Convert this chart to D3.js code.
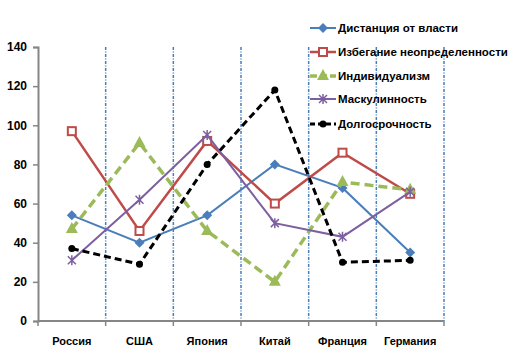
<!DOCTYPE html>
<html><head><meta charset="utf-8">
<script src="https://cdn.jsdelivr.net/npm/d3@7"></script>
<style>body{margin:0;background:#fff}svg{display:block}text{font-family:"Liberation Sans",Arial,sans-serif;font-weight:bold;fill:#000}</style>
</head><body><div id="c"></div>
<script>
const categories = ["Россия","США","Япония","Китай","Франция","Германия"];
const seriesNames = ["Дистанция от власти","Избегание неопределенности","Индивидуализм","Маскулинность","Долгосрочность"];
const powerDistance = [54,40,54,80,68,35];
const uncertainty = [97,46,92,60,86,65];
const individualism = [47,91,46,20,71,67];
const masculinity = [31,62,95,50,43,66];
const longTerm = [37,29,80,118,30,31];
const yTicks = [0,20,40,60,80,100,120,140];

const W=517,H=356;
const svg=d3.select("#c").append("svg").attr("width",W).attr("height",H);
const x=d3.scaleBand().domain(categories).range([38,444]);
const y=d3.scaleLinear().domain([0,140]).range([321,47]);

const styles=[
 {c:"#4A7EBB",w:2,dash:null,mk:"diamond"},
 {c:"#BE4B48",w:2.5,dash:null,mk:"square"},
 {c:"#9BBB59",w:3.5,dash:"9,5",mk:"triangle"},
 {c:"#7D5FA0",w:2,dash:null,mk:"x"},
 {c:"#000",w:3,dash:"7,4",mk:"circle"}
];
const data=[powerDistance,uncertainty,individualism,masculinity,longTerm];

const bounds=categories.map(c=>x(c)+x.bandwidth());
svg.append("g").selectAll("line").data(bounds).join("line")
 .attr("x1",d=>d).attr("x2",d=>d).attr("y1",y(140)).attr("y2",y(0))
 .attr("stroke","#4A7EBB").attr("stroke-width",1.5).attr("stroke-dasharray","3,1.5,1,1.5");

const ya=svg.append("g").attr("transform","translate(38,0)").call(d3.axisLeft(y).tickValues(yTicks).tickSize(5).tickPadding(6));
ya.select(".domain").attr("stroke","#868686").attr("stroke-width",2);
ya.selectAll(".tick line").attr("stroke","#868686").attr("stroke-width",1.5);
ya.selectAll("text").style("font-size","12px").style("font-family","Liberation Sans").style("font-weight","bold").attr("fill","#000");

const xa=svg.append("g").attr("transform","translate(0,321)");
xa.append("line").attr("x1",38).attr("x2",444).attr("stroke","#868686").attr("stroke-width",2);
xa.selectAll(".tk").data([38,...bounds]).join("line").attr("class","tk")
 .attr("x1",d=>d).attr("x2",d=>d).attr("y1",0).attr("y2",5).attr("stroke","#868686").attr("stroke-width",1.5);
xa.selectAll(".lb").data(categories).join("text").attr("class","lb")
 .attr("x",d=>x(d)+x.bandwidth()/2).attr("y",24).attr("text-anchor","middle")
 .style("font-size","11px").text(d=>d);

function marker(g,type,c,cx,cy){
 if(type==="diamond") g.append("path").attr("d",`M${cx},${cy-5}L${cx+5},${cy}L${cx},${cy+5}L${cx-5},${cy}Z`).attr("fill",c);
 else if(type==="square") g.append("rect").attr("x",cx-4).attr("y",cy-4).attr("width",8).attr("height",8).attr("fill","#fff").attr("stroke",c).attr("stroke-width",2);
 else if(type==="triangle") g.append("path").attr("d",`M${cx},${cy-7}L${cx+6},${cy+4}L${cx-6},${cy+4}Z`).attr("fill",c);
 else if(type==="x"){g.append("path").attr("d",`M${cx-4},${cy-4}L${cx+4},${cy+4}M${cx+4},${cy-4}L${cx-4},${cy+4}M${cx},${cy-5}L${cx},${cy+5}`).attr("stroke",c).attr("stroke-width",1.5);}
 else g.append("circle").attr("cx",cx).attr("cy",cy).attr("r",3.5).attr("fill",c);
}

const line=d3.line().x((d,i)=>x(categories[i])+x.bandwidth()/2).y(d=>y(d));
data.forEach((vals,k)=>{
 const s=styles[k];
 const g=svg.append("g");
 g.append("path").attr("d",line(vals)).attr("fill","none").attr("stroke",s.c).attr("stroke-width",s.w)
  .attr("stroke-dasharray",s.dash);
 vals.forEach((v,i)=>marker(g,s.mk,s.c,x(categories[i])+x.bandwidth()/2,y(v)));
});

const lg=svg.append("g");
const ly=[28,52,76,99,124];
seriesNames.forEach((n,k)=>{
 const s=styles[k];
 lg.append("line").attr("x1",310).attr("x2",336).attr("y1",ly[k]).attr("y2",ly[k]).attr("stroke",s.c).attr("stroke-width",s.w).attr("stroke-dasharray",s.dash?(k===4?"5,3":"7,3"):null);
 marker(lg,s.mk,s.c,323,ly[k]);
 lg.append("text").attr("x",338).attr("y",ly[k]+4).style("font-size","11.5px").text(n);
});
</script></body></html>
